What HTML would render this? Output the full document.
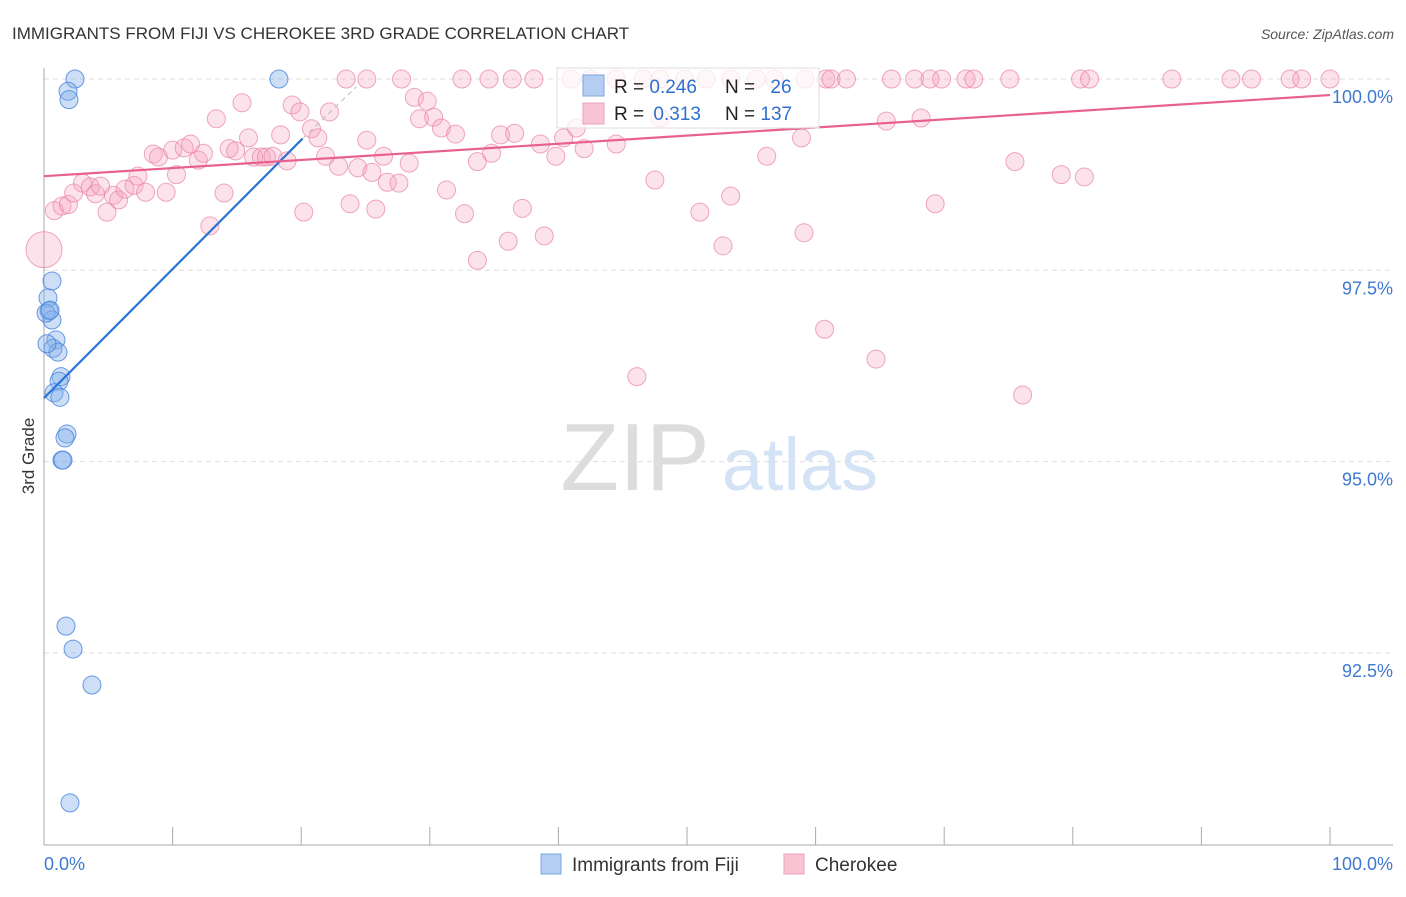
<!DOCTYPE html>
<html><head><meta charset="utf-8"><style>
body{margin:0;background:#fff;font-family:"Liberation Sans",sans-serif;}
svg text{font-family:"Liberation Sans",sans-serif;}
</style></head><body>
<svg id="c" width="1406" height="892" xmlns="http://www.w3.org/2000/svg">
<text x="12" y="39" font-size="17" fill="#333">IMMIGRANTS FROM FIJI VS CHEROKEE 3RD GRADE CORRELATION CHART</text>
<text x="1394" y="39" font-size="14" fill="#555" font-style="italic" text-anchor="end">Source: ZipAtlas.com</text>
<text transform="translate(34,456) rotate(-90)" font-size="17" fill="#333" text-anchor="middle">3rd Grade</text>
<g>
<text x="635" y="490" font-size="96" fill="#ddd" font-family="Liberation Serif,serif" text-anchor="middle">ZIP</text>
<text x="800" y="490" font-size="74" fill="#d4e3f5" text-anchor="middle">atlas</text>
</g>
<g id="grid"></g><g id="axes"></g><g id="pts"></g><g id="lines"></g>
<g>
<rect x="557" y="68" width="262" height="60" fill="rgba(255,255,255,0.75)" stroke="#ddd"/>
<rect x="583" y="75" width="21" height="21" fill="#b4cdf0" stroke="#7aa6e2"/>
<rect x="583" y="103" width="21" height="21" fill="#f8c4d4" stroke="#eca0b8"/>
<text x="614" y="93" font-size="19" fill="#222">R = <tspan fill="#2f6fd0">0.246</tspan></text>
<text x="725" y="93" font-size="19" fill="#222">N = <tspan fill="#2f6fd0" dx="10">26</tspan></text>
<text x="614" y="120" font-size="19" fill="#222">R = <tspan fill="#2f6fd0" dx="4">0.313</tspan></text>
<text x="725" y="120" font-size="19" fill="#222">N = <tspan fill="#2f6fd0">137</tspan></text>
</g>
<g>
<rect x="541" y="854" width="20" height="20" fill="#b4cdf0" stroke="#7aa6e2"/>
<text x="572" y="871" font-size="19" fill="#333">Immigrants from Fiji</text>
<rect x="784" y="854" width="20" height="20" fill="#f8c4d4" stroke="#eca0b8"/>
<text x="815" y="871" font-size="19" fill="#333">Cherokee</text>
</g>
</svg>
<script>
const yTicks=[100,97.5,95,92.5];
const yTickLabels=["100.0%","97.5%","95.0%","92.5%"];
const xTickVals=[0,10,20,30,40,50,60,70,80,90,100];
const fijiX=[2.41,18.27,1.87,1.94,0.62,0.31,0.39,0.62,0.93,0.70,1.09,1.32,1.17,0.78,1.24,1.79,1.63,1.40,1.48,1.71,2.26,3.73,2.02,0.16,0.23,0.47];
const fijiY=[100,100,99.84,99.73,97.36,97.14,96.97,96.85,96.59,96.48,96.43,96.11,96.05,95.90,95.84,95.36,95.31,95.02,95.02,92.85,92.55,92.08,90.54,96.94,96.54,96.98];
const cherTopX=[23.5,25.1,27.8,32.5,34.6,36.4,38.1,41.0,42.5,44.5,46.6,47.9,49.8,51.5,53.4,55.4,56.8,59.2,60.8,61.2,62.4,65.9,67.7,68.9,69.8,71.7,72.3,75.1,80.6,81.3,87.7,92.3,93.9,96.9,97.8,100];
const cherX=[0,0.8,1.4,1.9,2.3,3.0,3.6,4.0,4.4,4.9,5.4,5.8,6.3,7.0,7.3,7.9,8.5,8.9,9.5,10.0,10.3,10.9,11.4,12.0,12.4,12.9,13.4,14.0,14.4,14.9,15.4,15.9,16.3,16.9,17.3,17.8,18.4,18.9,19.3,19.9,20.2,20.8,21.3,21.9,22.2,22.9,23.8,24.4,25.1,25.5,25.8,26.7,26.4,27.6,28.4,28.8,29.2,29.8,30.3,30.9,31.3,32.0,32.7,33.7,33.7,34.8,35.5,36.1,36.6,37.2,38.6,38.9,39.8,40.4,41.4,42.0,44.5,46.1,47.5,47.9,51.0,52.8,53.4,56.2,58.9,59.1,60.7,64.7,65.5,68.2,69.3,75.5,76.1,79.1,80.9];
const cherY=[97.77,98.28,98.34,98.36,98.51,98.64,98.59,98.50,98.60,98.26,98.48,98.42,98.56,98.61,98.73,98.52,99.02,98.98,98.52,99.07,98.75,99.10,99.15,98.94,99.03,98.08,99.48,98.51,99.09,99.06,99.69,99.23,98.98,98.98,98.98,98.99,99.27,98.93,99.66,99.57,98.26,99.35,99.23,98.99,99.57,98.86,98.37,98.84,99.20,98.78,98.30,98.65,98.99,98.64,98.90,99.76,99.48,99.71,99.50,99.36,98.55,99.28,98.24,98.92,97.63,99.03,99.27,97.88,99.29,98.31,99.15,97.95,98.99,99.23,99.36,99.09,99.15,96.11,98.68,99.49,98.26,97.82,98.47,98.99,99.23,97.99,96.73,96.34,99.45,99.49,98.37,98.92,95.87,98.75,98.72];
const fijiTrend=[[0,95.83],[20.1,99.22]];
const fijiDash=[[20.1,99.22],[24.3,99.9]];
const cherTrend=[[0,98.73],[100,99.79]];
const NS="http://www.w3.org/2000/svg";
const sx=v=>44+v*12.86;
const sy=v=>79+(100-v)*76.52;
function mk(t,a,p){const e=document.createElementNS(NS,t);for(const k in a)e.setAttribute(k,a[k]);document.getElementById(p).appendChild(e);return e;}
yTicks.forEach((v,i)=>{
 const l=mk('line',{x1:44,x2:1393,y1:sy(v),y2:sy(v),stroke:'#ddd','stroke-dasharray':'5,4'},'grid');
 
 
 const t=mk('text',{x:1393,y:sy(v)+24,'font-size':18,fill:'#3f78d0','text-anchor':'end'},'axes');
 t.textContent=yTickLabels[i];
 
 
});
let a=mk('line',{x1:44,x2:44,y1:68,y2:845,stroke:'#aaa'},'axes');


a=mk('line',{x1:44,x2:1393,y1:845,y2:845,stroke:'#aaa'},'axes');


xTickVals.forEach(v=>{const t=mk('line',{x1:sx(v),x2:sx(v),y1:827,y2:845,stroke:'#aaa'},'axes');
 
 });
let t=mk('text',{x:44,y:870,'font-size':18,fill:'#3f78d0'},'axes');t.textContent='0.0%';


t=mk('text',{x:1393,y:870,'font-size':18,fill:'#3f78d0','text-anchor':'end'},'axes');t.textContent='100.0%';


function dot(x,y,r,f,s,n){const c=mk('circle',{cx:sx(x),cy:sy(y),r:r,fill:f,stroke:s,'stroke-width':1},'pts');
 
 }
cherTopX.forEach(x=>dot(x,100,9,'rgba(244,160,188,0.3)','rgba(232,130,165,0.7)','cherokee-point'));
cherX.forEach((x,i)=>dot(x,cherY[i],i===0?18:9,'rgba(244,160,188,0.3)','rgba(232,130,165,0.7)','cherokee-point'));
fijiX.forEach((x,i)=>dot(x,fijiY[i],9,'rgba(130,175,235,0.4)','rgba(70,130,220,0.8)','fiji-point'));
function ln(p,st,w,d,n){const l=mk('line',{x1:sx(p[0][0]),y1:sy(p[0][1]),x2:sx(p[1][0]),y2:sy(p[1][1]),stroke:st,'stroke-width':w},'lines');
 if(d)l.setAttribute('stroke-dasharray',d);
 
 }
ln(fijiDash,'#bbb',1,'5,4','fiji-trend-extension');
ln(fijiTrend,'#2a74d6',2.2,null,'fiji-trend-line');
ln(cherTrend,'#e8608c',2.2,null,'cherokee-trend-line');
</script>
</body></html>
